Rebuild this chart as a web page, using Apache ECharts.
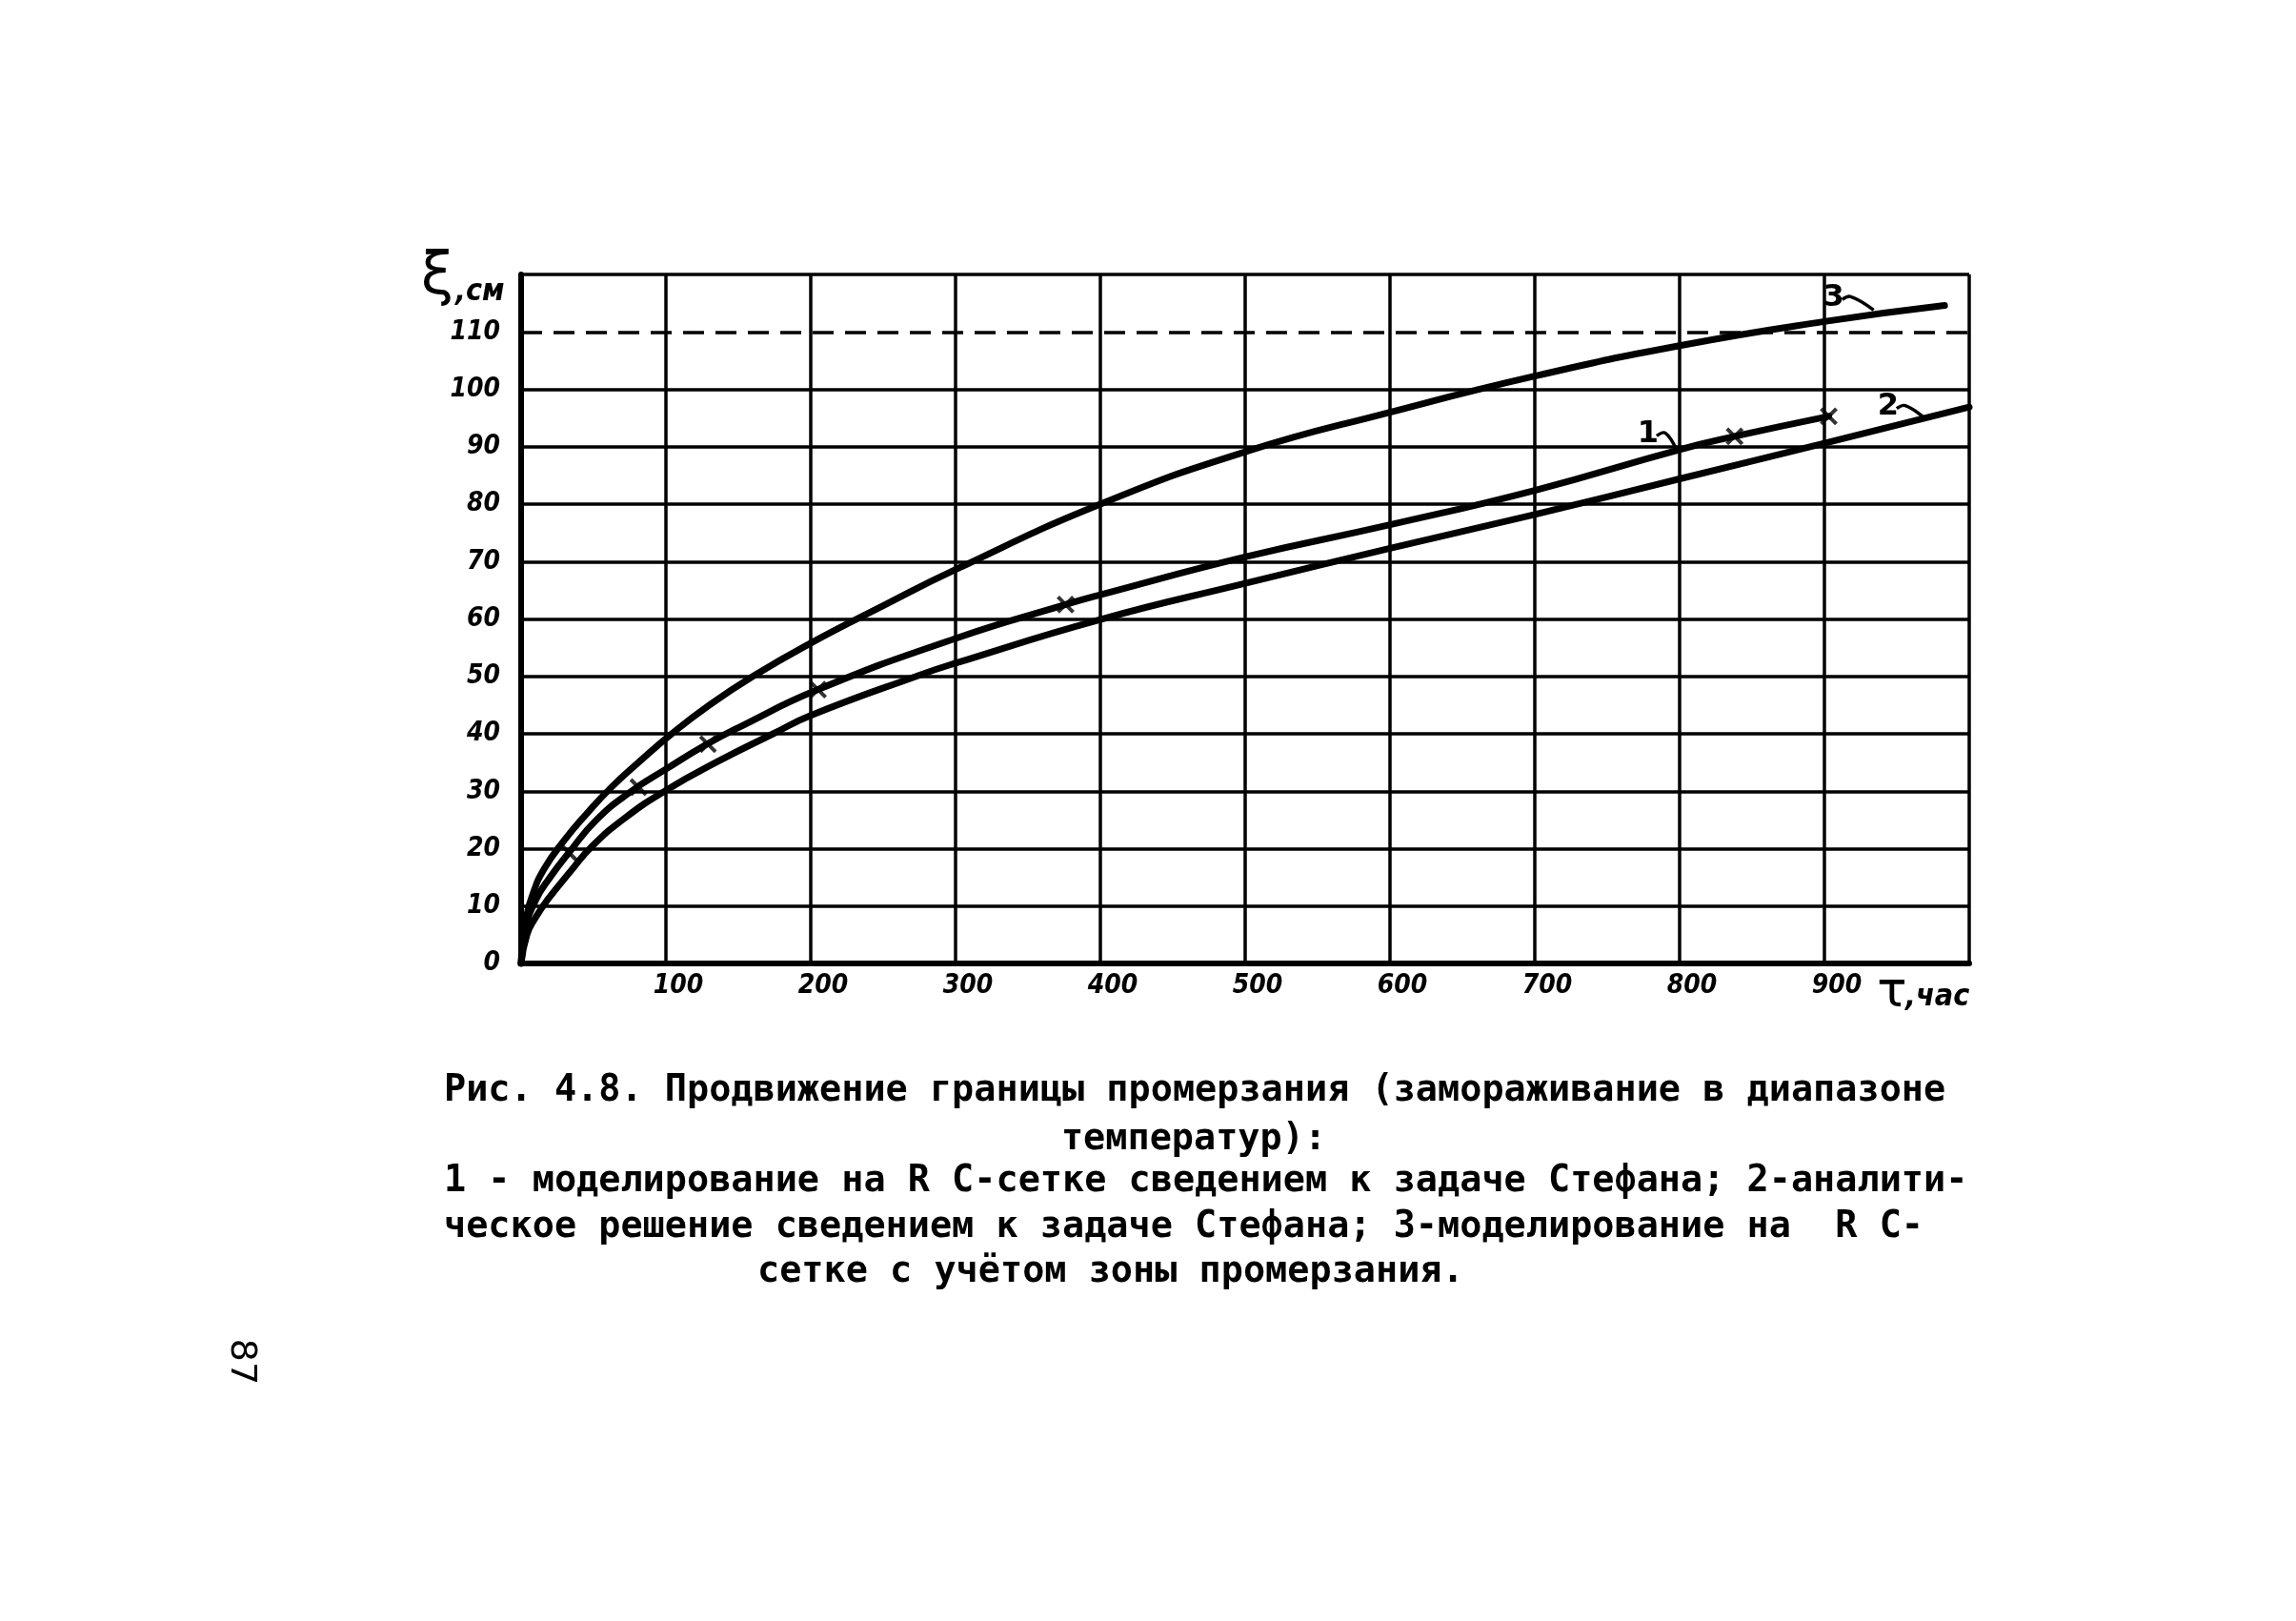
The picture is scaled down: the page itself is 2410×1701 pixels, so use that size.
<!DOCTYPE html>
<html><head><meta charset="utf-8">
<script src="https://cdn.jsdelivr.net/npm/echarts@6/dist/echarts.min.js"></script>
<style>html,body{margin:0;padding:0;background:#fff;} #c{width:2410px;height:1701px;}</style>
</head><body><div id="c"></div>
<script>
// ---- data (τ, hours ; ξ, cm) ----
const curve1Tau = [0, 3, 10, 20, 33, 52, 75, 101, 127, 151, 205, 300, 376, 400, 500, 600, 700, 800, 838, 903];
const curve1Xi  = [0, 6, 11, 15, 19.3, 25, 29.8, 34, 38, 41.2, 47.7, 56.6, 62.5, 64.2, 70.8, 76.4, 82.4, 89.5, 91.8, 95.3];
const curve2Tau = [0, 4, 10, 18, 34, 49, 72, 101, 136, 174, 200, 276, 300, 400, 500, 600, 700, 800, 900, 1000];
const curve2Xi  = [0, 5, 8, 11, 16, 20.4, 25.4, 30.3, 35.2, 40, 43.2, 50.3, 52.3, 59.9, 66.2, 72.3, 78.2, 84.4, 90.6, 96.9];
const curve3Tau = [0, 3, 8, 16, 30, 45, 62, 81, 104, 130, 160, 200, 250, 300, 400, 500, 600, 700, 800, 900, 983];
const curve3Xi  = [0, 7, 12, 16.5, 21.5, 26, 30.6, 35, 40, 45, 50, 55.8, 62.3, 68.6, 80, 89.1, 96, 102.3, 107.6, 111.8, 114.6];
// cross marks on curve 1
const marks1Tau = [33, 81, 129, 205, 376, 838, 903];
const marks1Xi  = [19.3, 30.7, 38.2, 47.7, 62.5, 91.8, 95.3];
// curve number labels: text and the point where the leader touches the curve
const curveLabels   = ['1', '2', '3'];
const curveLabelTau = [798, 969, 934];
const curveLabelXi  = [89.4, 95.0, 113.8];
// tick labels
const xTickLabels = [100, 200, 300, 400, 500, 600, 700, 800, 900];
const yTickLabels = [0, 10, 20, 30, 40, 50, 60, 70, 80, 90, 100, 110];
const yGridLines  = [10, 20, 30, 40, 50, 60, 70, 80, 90, 100, 110, 120];
const dashedGrid  = [110];
// caption
const captionLines = [
  'Рис. 4.8. Продвижение границы промерзания (замораживание в диапазоне',
  'температур):',
  '1 - моделирование на R С-сетке сведением к задаче Стефана; 2-аналити-',
  'ческое решение сведением к задаче Стефана; 3-моделирование на  R С-',
  'сетке с учётом зоны промерзания.'
];
const pageNumber = '87';

const zip = (a, b) => a.map((v, i) => [v, b[i]]);
const labelFont = {fontFamily: 'DejaVu Sans Condensed', fontStyle: 'italic', fontWeight: 'bold', fontSize: 28, color: '#000'};
const GRID = {left: 547, top: 288, width: 1520, height: 723};

const chart = echarts.init(document.getElementById('c'), null, {renderer: 'canvas'});
const lineSeries = (name, t, x) => ({
  name, type: 'line', data: zip(t, x), smooth: 0.5,
  showSymbol: false, symbol: 'none',
  lineStyle: {color: '#000', width: 7, cap: 'round', join: 'round'}, z: 5
});
const option = {
  animation: false,
  backgroundColor: '#fff',
  grid: GRID,
  xAxis: {
    type: 'value', min: 0, max: 1000, interval: 100,
    axisLine: {show: true, onZero: false, lineStyle: {color: '#000', width: 6}},
    axisTick: {show: false},
    splitLine: {show: true, lineStyle: {color: '#000', width: 3.5}},
    axisLabel: Object.assign({margin: 10, padding: [0, 0, 0, 26],
      formatter: v => xTickLabels.includes(v) ? String(v) : ''}, labelFont)
  },
  yAxis: {
    type: 'value', min: 0, max: 120, interval: 10,
    axisLine: {show: true, onZero: false, lineStyle: {color: '#000', width: 6}},
    axisTick: {show: false},
    splitLine: {show: false},
    axisLabel: Object.assign({margin: 22,
      formatter: v => yTickLabels.includes(v) ? String(v) : ''}, labelFont)
  },
  series: [
    Object.assign(lineSeries('1', curve1Tau, curve1Xi), {
      markLine: {
        silent: true, symbol: 'none', label: {show: false}, animation: false,
        data: yGridLines.map(v => ({yAxis: v, lineStyle: {color: '#000', width: 3.5,
          type: dashedGrid.includes(v) ? [22, 12] : 'solid'}}))
      }
    }),
    lineSeries('2', curve2Tau, curve2Xi),
    lineSeries('3', curve3Tau, curve3Xi),
    {
      name: 'marks', type: 'scatter', data: zip(marks1Tau, marks1Xi),
      symbol: 'path://M0,0 L10,10 M10,0 L0,10', symbolSize: 16,
      itemStyle: {color: 'none', borderColor: '#000', borderWidth: 4}, z: 6
    }
  ]
};
chart.setOption(option);

const g = [];
// axis names
g.push({type: 'text', style: {text: 'ξ', x: 459, y: 292, align: 'center', verticalAlign: 'middle',
  font: 'normal 62px "DejaVu Sans"', fill: '#000'}});
g.push({type: 'text', style: {text: ',см', x: 478, y: 307, align: 'left', verticalAlign: 'middle',
  font: 'italic bold 32px "DejaVu Sans Condensed"', fill: '#000'}});
g.push({type: 'text', style: {text: 'τ', x: 1986, y: 1042, align: 'center', verticalAlign: 'middle',
  font: 'normal 52px "DejaVu Sans"', fill: '#000'}});
g.push({type: 'text', style: {text: ',час', x: 2000, y: 1047, align: 'left', verticalAlign: 'middle',
  font: 'italic bold 32px "DejaVu Sans Condensed"', fill: '#000'}});
// curve labels with leaders
const labelOffsets = [[-20, -17], [-28, -12], [-32, -13]];
curveLabels.forEach((t, i) => {
  const p = chart.convertToPixel({gridIndex: 0}, [curveLabelTau[i], curveLabelXi[i]]);
  const o = labelOffsets[i];
  const tx = p[0] + o[0] - 10, ty = p[1] + o[1];
  g.push({type: 'text', style: {text: t, x: tx, y: ty, align: 'center', verticalAlign: 'middle',
    font: 'bold 32px "DejaVu Sans"', fill: '#000'}});
  g.push({type: 'polyline', shape: {points: [[tx + 9, ty + 2], [tx + 18, ty - 1], [p[0], p[1]]], smooth: 0.4},
    style: {stroke: '#000', lineWidth: 3.5, fill: 'none'}});
});
// caption
const capY = [1145, 1196, 1240, 1288, 1335];
const capX = [466, 1253, 466, 466, 795];
const capAlign = ['left', 'center', 'left', 'left', 'left'];
captionLines.forEach((t, i) => {
  g.push({type: 'text', style: {text: t, x: capX[i], y: capY[i], align: capAlign[i], verticalAlign: 'middle',
    font: 'bold 38.5px "DejaVu Sans Mono"', fill: '#000'}});
});
// page number (rotated)
g.push({type: 'text', x: 253, y: 1429, rotation: -Math.PI / 2,
  style: {text: pageNumber, x: 0, y: 0, align: 'center', verticalAlign: 'middle',
    font: 'normal 38px "DejaVu Sans"', fill: '#000'}});
chart.setOption({graphic: g});
</script></body></html>
